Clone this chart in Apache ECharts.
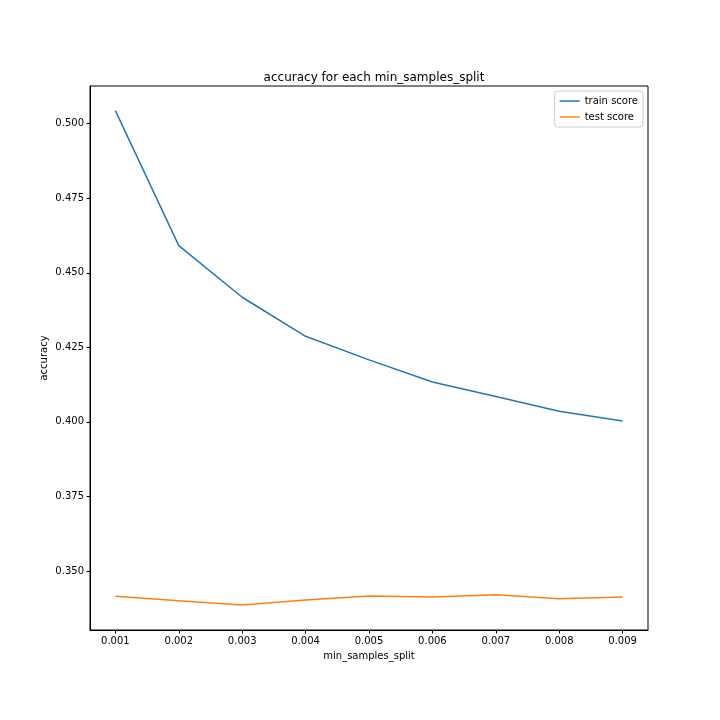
<!DOCTYPE html>
<html>
<head>
<meta charset="utf-8">
<script src="https://cdn.jsdelivr.net/npm/echarts@6/dist/echarts.min.js"></script>
<style>html,body{margin:0;padding:0;background:#fff}#c{width:720px;height:720px}</style>
</head>
<body>
<div id="c"></div>
<script>
const minSamplesSplit = [0.001, 0.002, 0.003, 0.004, 0.005, 0.006, 0.007, 0.008, 0.009];
const trainScore = [0.5044, 0.4591, 0.4418, 0.4287, 0.4208, 0.4134, 0.4085, 0.4036, 0.4003];
const testScore = [0.3415, 0.3400, 0.3386, 0.3403, 0.3416, 0.3413, 0.3420, 0.3407, 0.3413];
const yTicks = [0.350, 0.375, 0.400, 0.425, 0.450, 0.475, 0.500];
const xTicks = [0.001, 0.002, 0.003, 0.004, 0.005, 0.006, 0.007, 0.008, 0.009];

const font = 'DejaVu Sans';
const chart = echarts.init(document.getElementById('c'), null, {renderer: 'canvas'});
chart.setOption({
  animation: false,
  backgroundColor: '#fff',
  textStyle: {fontFamily: font, color: '#000'},
  title: {
    text: 'accuracy for each min_samples_split',
    left: 369, top: 67, textAlign: 'center',
    textStyle: {fontFamily: font, fontSize: 12, fontWeight: 'normal', color: '#000'}
  },
  legend: {
    orient: 'vertical', right: 77, top: 91,
    icon: 'rect', itemWidth: 20, itemHeight: 1.5, itemGap: 6,
    padding: [5, 5, 5, 5],
    borderColor: '#ccc', borderWidth: 1, borderRadius: 3,
    backgroundColor: 'rgba(255,255,255,0.8)',
    textStyle: {fontFamily: font, fontSize: 10, color: '#000'},
    data: ['train score', 'test score']
  },
  grid: {left: 90, right: 72, top: 86, bottom: 90, show: true, borderColor: '#000', borderWidth: 1, backgroundColor: 'transparent'},
  xAxis: {
    type: 'value', min: 0.0006, max: 0.0094,
    name: 'min_samples_split', nameLocation: 'middle', nameGap: 21, nameMoveOverlap: false,
    nameTextStyle: {fontFamily: font, fontSize: 10, color: '#000'},
    axisLine: {show: true, lineStyle: {color: '#000', width: 1}},
    axisTick: {show: true, length: 3.5, lineStyle: {color: '#000'}, customValues: xTicks},
    axisLabel: {fontFamily: font, fontSize: 10, color: '#000', margin: 6, customValues: xTicks,
      formatter: v => v.toFixed(3)},
    splitLine: {show: false}
  },
  yAxis: {
    type: 'value', min: 0.3302, max: 0.51265,
    name: 'accuracy', nameLocation: 'middle', nameGap: 41, nameMoveOverlap: false,
    nameTextStyle: {fontFamily: font, fontSize: 10, color: '#000'},
    axisLine: {show: true, lineStyle: {color: '#000', width: 1}},
    axisTick: {show: true, length: 3.5, lineStyle: {color: '#000'}, customValues: yTicks},
    axisLabel: {fontFamily: font, fontSize: 10, color: '#000', margin: 6, customValues: yTicks,
      formatter: v => v.toFixed(3)},
    splitLine: {show: false}
  },
  series: [
    {name: 'train score', type: 'line', showSymbol: false, symbol: 'none',
     lineStyle: {color: '#1f77b4', width: 1.5}, itemStyle: {color: '#1f77b4'},
     data: minSamplesSplit.map((x, i) => [x, trainScore[i]])},
    {name: 'test score', type: 'line', showSymbol: false, symbol: 'none',
     lineStyle: {color: '#ff7f0e', width: 1.5}, itemStyle: {color: '#ff7f0e'},
     data: minSamplesSplit.map((x, i) => [x, testScore[i]])}
  ]
});
</script>
</body>
</html>
